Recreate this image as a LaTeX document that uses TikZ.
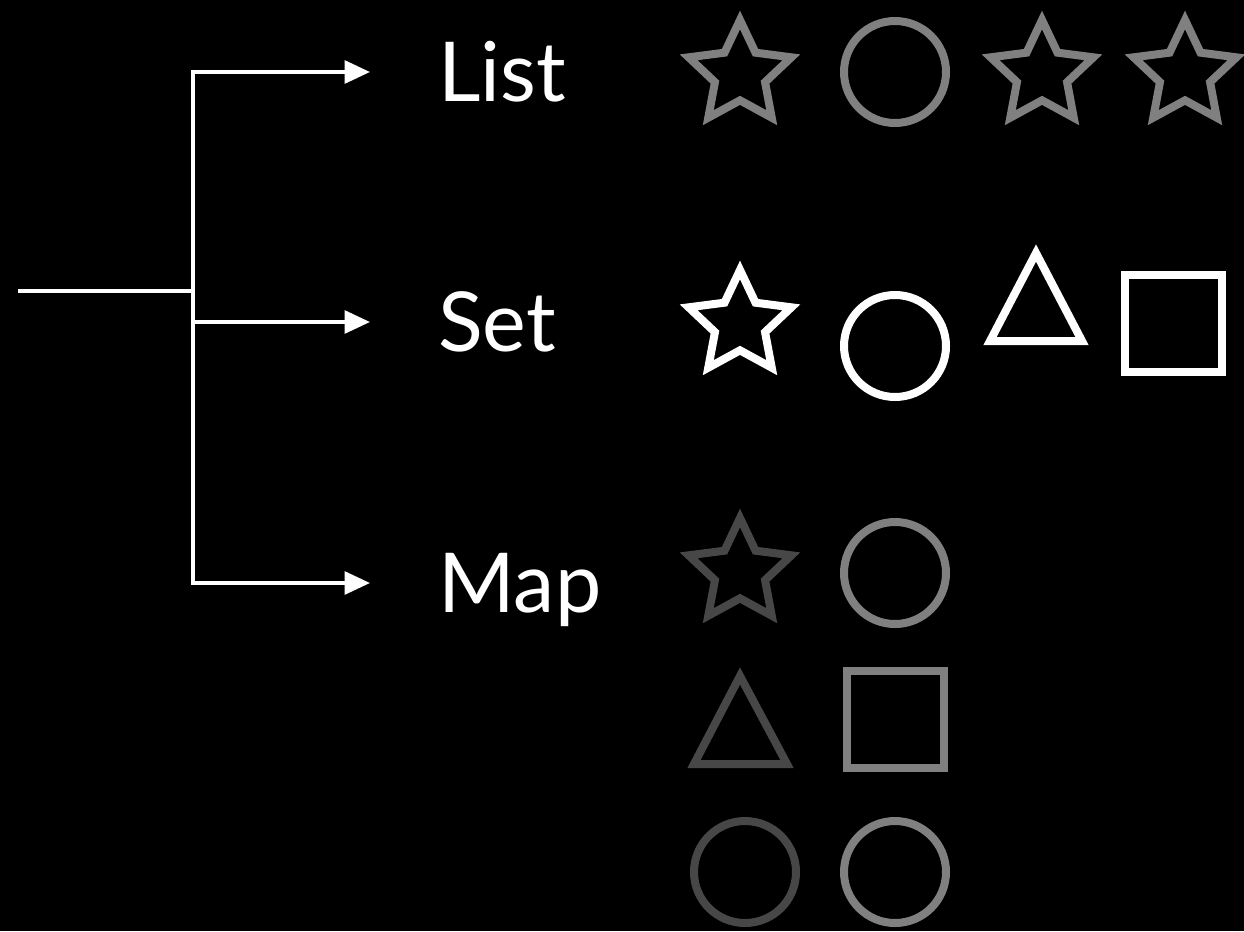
\documentclass[tikz,border=0pt]{standalone}
\usepackage{fontspec}
\setmainfont{Lato}
\usetikzlibrary{shapes.geometric,arrows.meta}
\definecolor{shapegray}{HTML}{808080}
\definecolor{shapedark}{HTML}{474747}
\tikzset{
  branch/.style={white, line width=2.8pt},
  arr/.style={branch, -{Triangle[length=19pt,width=17pt]}, shorten >=51pt},
  coll/.style={text=white, anchor=west, inner sep=0pt, text height=43.5pt, text depth=0pt,
    font=\fontsize{62}{70}\selectfont},
  starbox/.style={star, star points=5, star point ratio=2.05, minimum size=81pt,
    inner sep=0pt, line width=6pt},
  ring/.style={line width=6pt},
}
\begin{document}
\begin{tikzpicture}[x=0.75pt,y=-0.75pt]
\fill[black] (0,0) rectangle (1244,931);
% collections
\node[coll] (list) at (438,72) {List};
\node[coll] (set) at (438,322) {Set};
\node[coll] (map) at (438,583) {Map};
\coordinate (in) at (18,291);
\coordinate (fork) at (193,291);
\draw[branch] (in) -- (fork);
\draw[arr] (fork) |- (list.west);
\draw[arr] (fork) |- (set.west);
\draw[arr] (fork) |- (map.west);
% list row
\node[starbox, draw=shapegray] (ls1) at (740,74) {};
\draw[ring, shapegray] (895,72) circle[radius=51];
\node[starbox, draw=shapegray] (ls2) at (1042,74) {};
\node[starbox, draw=shapegray] (ls3) at (1185,74) {};
% set row
\node[starbox, draw=white] (ss1) at (740,324) {};
\draw[ring, white] (895,346) circle[radius=51];
\draw[ring, white] (990,341) -- (1082,341) -- (1036,253) -- cycle;
\draw[ring, white] (1125,275) rectangle (1222,372);
% map rows
\node[starbox, draw=shapedark] (ms1) at (740,572) {};
\draw[ring, shapegray] (895,573) circle[radius=51];
\draw[ring, shapedark] (694,764) -- (787,764) -- (740,676) -- cycle;
\draw[ring, shapegray] (847,671) rectangle (944,768);
\draw[ring, shapedark] (745,872) circle[radius=51];
\draw[ring, shapegray] (895,872) circle[radius=51];
\end{tikzpicture}
\end{document}
